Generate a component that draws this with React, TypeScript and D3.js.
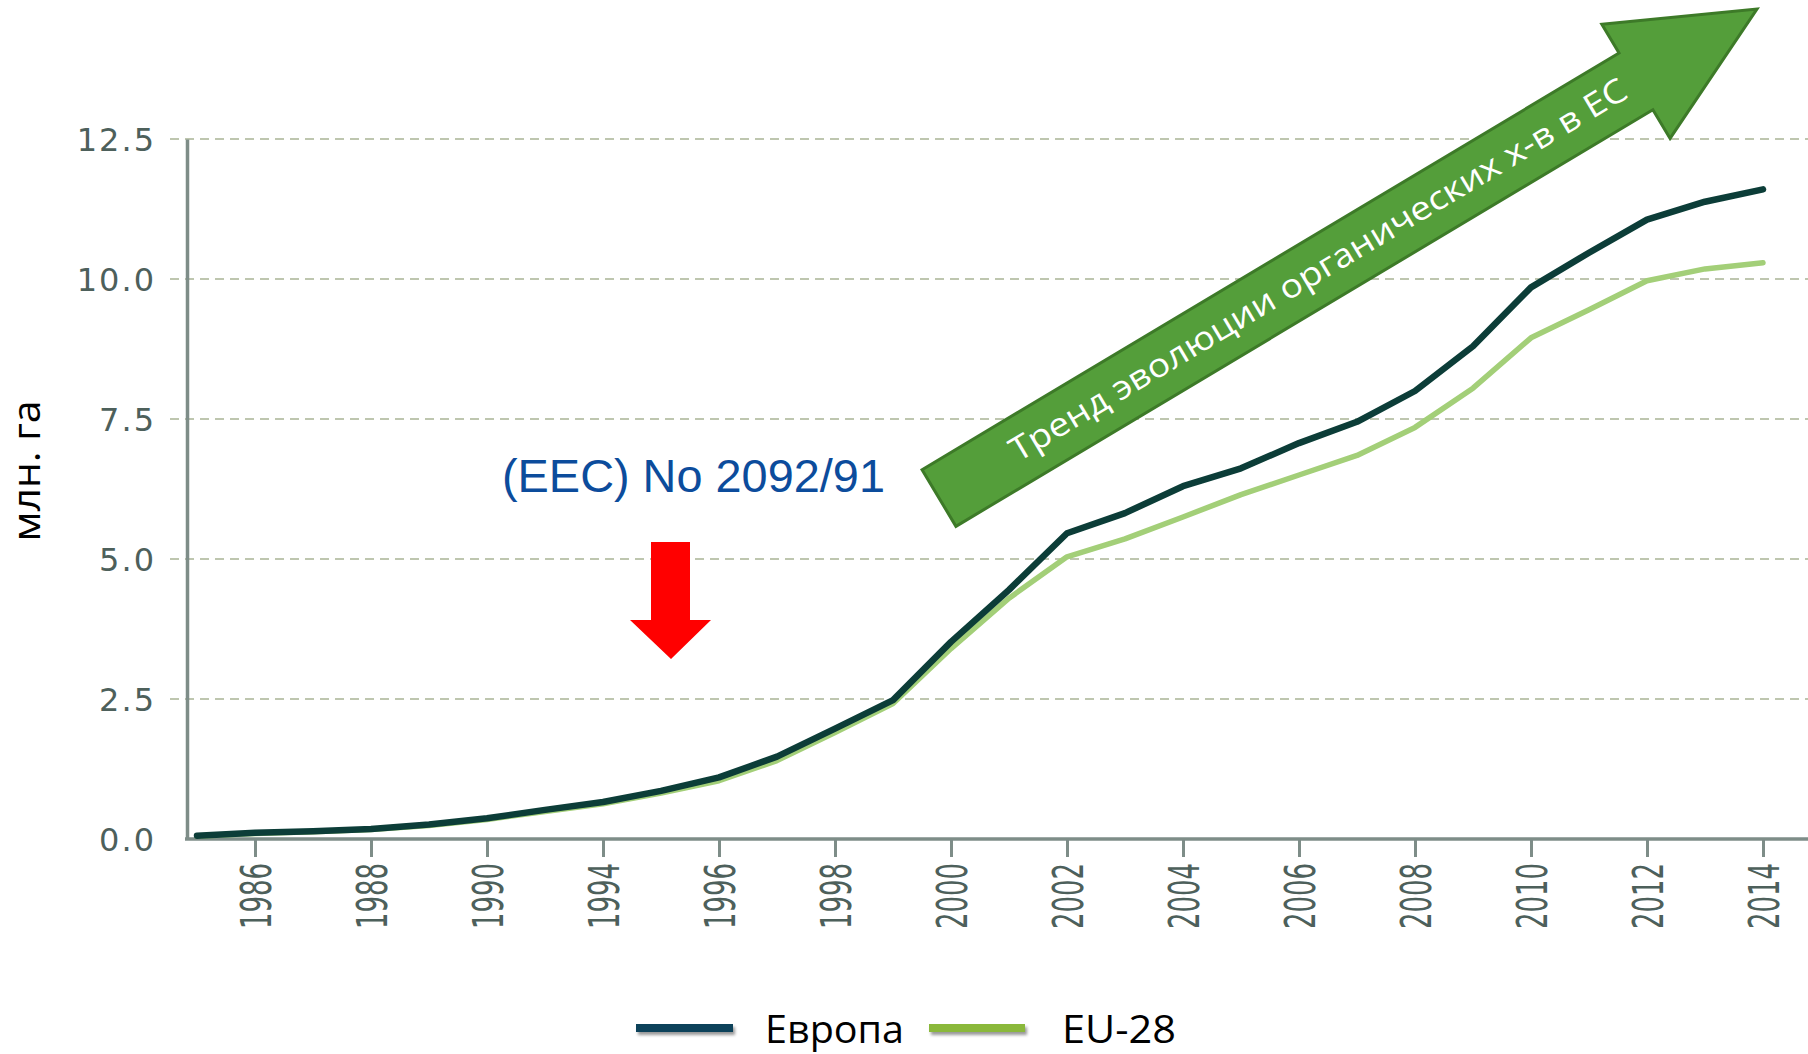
import React, { useEffect, useRef } from "react";
import * as d3 from "d3";

// Years of the series (one value per year)
const YEARS = [
  1987, 1988, 1989, 1990, 1991, 1992, 1993, 1994, 1995, 1996, 1997, 1998, 1999, 2000,
  2001, 2002, 2003, 2004, 2005, 2006, 2007, 2008, 2009, 2010, 2011, 2012, 2013, 2014,
];

// Organic area, million ha
const EUROPE = [
  0.06, 0.11, 0.14, 0.18, 0.26, 0.37, 0.52, 0.66, 0.86, 1.1, 1.47, 1.97, 2.48, 3.52,
  4.45, 5.46, 5.82, 6.3, 6.62, 7.07, 7.45, 8.0, 8.8, 9.85, 10.47, 11.06, 11.38, 11.6,
];
const EU28 = [
  0.05, 0.1, 0.13, 0.17, 0.24, 0.35, 0.49, 0.63, 0.82, 1.04, 1.4, 1.9, 2.42, 3.4,
  4.3, 5.04, 5.36, 5.75, 6.15, 6.5, 6.85, 7.35, 8.05, 8.95, 9.45, 9.97, 10.18, 10.29,
];

// tick positions and the labels printed under them
const TICK_YEARS = [1988, 1990, 1992, 1994, 1996, 1998, 2000, 2002, 2004, 2006, 2008, 2010, 2012, 2014];
const TICK_LABELS = ["1986", "1988", "1990", "1994", "1996", "1998", "2000", "2002", "2004", "2006", "2008", "2010", "2012", "2014"];
const Y_TICKS = [0, 2.5, 5, 7.5, 10, 12.5];

const SERIES = [
  { name: "EU-28", values: EU28, color: "#a3cf78", width: 5.5 },
  { name: "Европа", values: EUROPE, color: "#0c3d38", width: 6.5 },
];

const TREND_TEXT = "Тренд эволюции органических х-в в ЕС";
const REG_TEXT = "(EEC) No 2092/91";

export default function App() {
  const svgRef = useRef<SVGSVGElement>(null);

  useEffect(() => {
    const W = 1808;
    const H = 1054;
    const svg = d3.select(svgRef.current).attr("width", W).attr("height", H);
    svg.selectAll("*").remove();

    const x = d3.scaleLinear().domain([1988, 2014]).range([255, 1763]);
    const y = d3.scaleLinear().domain([0, 12.5]).range([839, 139]);
    const axisColor = "#7e8d88";

    const defs = svg.append("defs");
    const sh = defs
      .append("filter")
      .attr("id", "legShadow")
      .attr("x", "-10%")
      .attr("y", "-100%")
      .attr("width", "130%")
      .attr("height", "400%");
    sh.append("feDropShadow")
      .attr("dx", 2)
      .attr("dy", 3)
      .attr("stdDeviation", 1.5)
      .attr("flood-color", "#000")
      .attr("flood-opacity", 0.4);

    // dashed grid
    svg
      .append("g")
      .selectAll("line")
      .data(Y_TICKS.filter((d) => d > 0))
      .join("line")
      .attr("x1", 170)
      .attr("x2", W)
      .attr("y1", (d) => y(d))
      .attr("y2", (d) => y(d))
      .attr("stroke", "#a9b495")
      .attr("stroke-width", 1.5)
      .attr("stroke-dasharray", "9 6");

    // y axis
    const gy = svg
      .append("g")
      .attr("transform", "translate(187,0)")
      .call(
        d3
          .axisLeft(y)
          .tickValues(Y_TICKS)
          .tickSize(0)
          .tickPadding(31)
          .tickFormat((d) => d3.format(".1f")(d as number))
      );
    gy.select(".domain").attr("stroke", axisColor).attr("stroke-width", 3.5);
    gy.selectAll("text")
      .attr("fill", "#4d605b")
      .attr("font-family", "DejaVu Sans")
      .attr("font-size", 32)
      .attr("letter-spacing", 2)
      .attr("dy", "0.36em");

    // x axis
    const gx = svg
      .append("g")
      .attr("transform", "translate(0,839)")
      .call(
        d3
          .axisBottom(x)
          .tickValues(TICK_YEARS)
          .tickSize(18)
          .tickSizeOuter(0)
          .tickFormat((_d, i) => TICK_LABELS[i])
      );
    gx.select(".domain").remove();
    gx.selectAll(".tick line").attr("stroke", axisColor).attr("stroke-width", 3);
    gx.selectAll(".tick text")
      .attr("transform", "rotate(-90)")
      .attr("text-anchor", "end")
      .attr("x", -24)
      .attr("y", 0)
      .attr("dy", "0.36em")
      .attr("fill", "#4d605b")
      .attr("font-family", "DejaVu Sans")
      .attr("font-size", 43)
      .attr("textLength", 66)
      .attr("lengthAdjust", "spacingAndGlyphs");
    svg
      .append("line")
      .attr("x1", 185)
      .attr("x2", W)
      .attr("y1", 839)
      .attr("y2", 839)
      .attr("stroke", axisColor)
      .attr("stroke-width", 3.5);

    // lines
    const line = d3
      .line<number>()
      .x((_d, i) => x(YEARS[i]))
      .y((d) => y(d))
      .curve(d3.curveLinear);
    SERIES.forEach((s) => {
      svg
        .append("path")
        .attr("d", line(s.values))
        .attr("fill", "none")
        .attr("stroke", s.color)
        .attr("stroke-width", s.width)
        .attr("stroke-linejoin", "round")
        .attr("stroke-linecap", "round");
    });

    // y title
    svg
      .append("text")
      .attr("transform", "translate(40,471) rotate(-90)")
      .attr("text-anchor", "middle")
      .attr("font-family", "Open Sans")
      .attr("font-size", 38)
      .attr("textLength", 141)
      .attr("lengthAdjust", "spacingAndGlyphs")
      .attr("fill", "#000")
      .text("млн. га");

    // regulation annotation
    svg
      .append("text")
      .attr("x", 502)
      .attr("y", 492)
      .attr("font-family", "Liberation Sans")
      .attr("font-size", 47)
      .attr("fill", "#0c4c9c")
      .attr("textLength", 383)
      .attr("lengthAdjust", "spacingAndGlyphs")
      .text(REG_TEXT);

    svg
      .append("polygon")
      .attr("points", "651,542 690,542 690,620 711,620 671,659 630,620 651,620")
      .attr("fill", "#ff0000");

    // green trend arrow
    const ang = (Math.atan2(-489, 818) * 180) / Math.PI;
    const ga = svg.append("g").attr("transform", `translate(939,498) rotate(${ang})`);
    ga.append("polygon")
      .attr("points", "0,-33 812,-33 812,-66.5 953,0 812,66.5 812,33 0,33")
      .attr("fill", "#549e3a")
      .attr("stroke", "#3d7a28")
      .attr("stroke-width", 3)
      .attr("stroke-linejoin", "miter");
    ga.append("text")
      .attr("x", 86)
      .attr("y", 10)
      .attr("font-family", "Open Sans")
      .attr("font-size", 33)
      .attr("fill", "#ffffff")
      .attr("textLength", 713)
      .attr("lengthAdjust", "spacingAndGlyphs")
      .text(TREND_TEXT);

    // legend
    const legend = [
      { name: "Европа", color: "#08435a", x1: 636, x2: 733, tx: 765, tw: 139 },
      { name: "EU-28", color: "#8ab83a", x1: 929, x2: 1025, tx: 1062, tw: 114 },
    ];
    const lg = svg.append("g");
    legend.forEach((l) => {
      lg.append("rect")
        .attr("x", l.x1)
        .attr("y", 1024)
        .attr("width", l.x2 - l.x1)
        .attr("height", 8)
        .attr("fill", l.color)
        .attr("filter", "url(#legShadow)");
      lg.append("text")
        .attr("x", l.tx)
        .attr("y", 1043)
        .attr("font-family", "Open Sans")
        .attr("font-size", 39)
        .attr("fill", "#000")
        .attr("textLength", l.tw)
        .attr("lengthAdjust", "spacingAndGlyphs")
        .text(l.name);
    });
  }, []);

  return (
    <svg
      ref={svgRef}
      style={{ position: "absolute", left: 0, top: 0, display: "block", background: "#fff" }}
    />
  );
}
